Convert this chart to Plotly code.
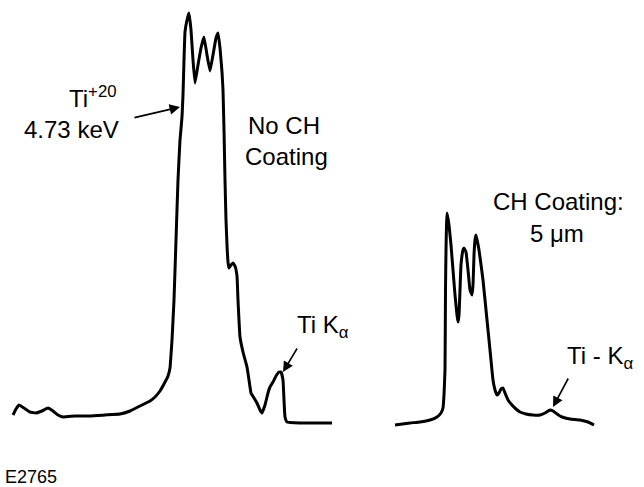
import plotly.graph_objects as go

# Spectrum without CH coating (channel, signal)
no_coat_x = [13, 16, 19, 24, 30, 36, 42, 48, 53, 58, 63, 75, 90, 105, 120, 130, 140, 150, 155, 160,
             164, 168, 170, 171, 172, 174, 176, 178, 180, 182, 183, 184, 185, 187, 189, 191, 193, 195,
             198, 201, 204, 207, 210, 213, 216, 218, 220, 222, 223, 224, 225, 226, 227, 228, 229, 231,
             233, 235, 237, 238, 240, 243, 247, 249, 251, 254, 257, 260, 262, 265, 268, 270, 273, 276,
             279, 281, 283, 284, 285, 287, 300, 320, 332]
no_coat_y = [15, 21, 25, 22, 18, 17, 19, 22, 19, 15, 13, 14, 14, 15, 16, 19, 24, 29, 33, 39,
             46, 54, 62, 75, 90, 130, 190, 250, 290, 313, 335, 370, 398, 410, 417, 400, 370, 347,
             365, 382, 393, 375, 359, 375, 392, 397, 382, 358, 340, 300, 250, 210, 185, 168, 162, 165,
             167, 164, 154, 130, 93, 78, 63, 50, 37, 32, 27, 20, 17, 25, 37, 43, 48, 54,
             58, 58, 50, 30, 13, 8, 7, 7, 7]

# Spectrum with 5 um CH coating
coat_x = [395, 410, 420, 430, 437, 441, 443, 444, 445, 445.5, 446, 446.5, 447, 449, 451, 453, 455, 457,
          458, 459, 460, 461, 463, 464, 466, 468, 470, 472, 473, 474, 475, 476, 479, 483, 487, 490,
          493, 495, 497, 499, 501, 503, 505, 508, 512, 516, 520, 526, 533, 540, 545, 550, 553, 557,
          562, 570, 580, 588, 594]
coat_y = [5, 7, 8, 10, 13, 17, 22, 35, 60, 140, 180, 205, 217, 205, 185, 160, 135, 115,
          108, 115, 140, 165, 180, 182, 178, 160, 140, 135, 145, 175, 190, 195, 180, 150, 110, 80,
          50, 40, 35, 37, 41, 42, 37, 30, 25, 21, 18, 16, 15, 15, 17, 20, 19, 16,
          13, 11, 10, 8, 5]

FONT = "Liberation Sans, Arial, Helvetica, sans-serif"

fig = go.Figure()
for xs, ys in [(no_coat_x, no_coat_y), (coat_x, coat_y)]:
    fig.add_trace(go.Scatter(x=xs, y=ys, mode="lines",
                             line=dict(color="black", width=3, shape="spline", smoothing=0.3),
                             showlegend=False, hoverinfo="skip"))

def label(text, x, y, xanchor="center", size=24):
    fig.add_annotation(x=x, y=y, xref="x", yref="y", text=text, showarrow=False,
                       xanchor=xanchor, yanchor="middle",
                       font=dict(family=FONT, size=size, color="black"))

def arrow(hx, hy, tx, ty):
    fig.add_annotation(x=hx, y=hy, ax=tx, ay=ty, xref="x", yref="y", axref="x", ayref="y",
                       text="", showarrow=True, arrowhead=2, arrowsize=1.3, arrowwidth=1.6,
                       arrowcolor="black", standoff=0, startstandoff=0)

label("Ti<sup>+20</sup>", 119, 333, "right")
label("4.73 keV", 121, 301, "right")
label("No CH", 284, 305)
label("Coating", 286, 274)
label("CH Coating:", 558, 229)
label("5 \u03bcm", 557, 197)
label("Ti K<sub>\u03b1</sub>", 295, 104, "left")
label("Ti - K<sub>\u03b1</sub>", 565, 73, "left")
label("E2765", 3, -47, "left", size=18)

arrow(180, 323, 133, 312)
arrow(283, 58, 298, 83)
arrow(553, 23, 569, 53)

fig.update_layout(
    width=644, height=487,
    margin=dict(l=0, r=0, t=0, b=0),
    paper_bgcolor="white", plot_bgcolor="white",
    xaxis=dict(range=[0, 644], visible=False, fixedrange=True),
    yaxis=dict(range=[-57, 430], visible=False, fixedrange=True),
)

fig.write_html("out.html")
